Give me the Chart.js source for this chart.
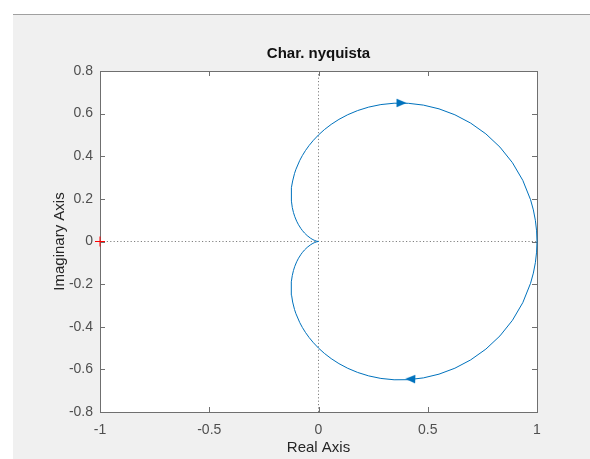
<!DOCTYPE html>
<html>
<head>
<meta charset="utf-8">
<script src="https://cdn.jsdelivr.net/npm/chart.js@4.4.0/dist/chart.umd.min.js"></script>
<style>
  html, body { margin: 0; padding: 0; background: #ffffff; overflow: hidden; }
  canvas { display: block; }
</style>
</head>
<body>
<canvas id="nyq" width="590" height="459"></canvas>
<script>
// Nyquist locus, positive frequencies (lower half), from w = 0 up to w -> inf
const posRe = [1, 0.99813, 0.99253, 0.98328, 0.97050, 0.93495, 0.88757, 0.83045, 0.76593, 0.69642,
  0.62426, 0.55152, 0.48, 0.41114, 0.34602, 0.28540, 0.22972, 0.17920, 0.13385, 0.09353,
  0.05800, 0.02694, 0, -0.02319, -0.04300, -0.05979, -0.07390, -0.08566, -0.10324, -0.10957,
  -0.11834, -0.12309, -0.125, -0.12386, -0.12, -0.11459, -0.10843, -0.09988, -0.09153, -0.08,
  -0.07314, -0.06408, -0.05190, -0.03550, -0.02557, -0.0192, -0.0097, -0.0025, 0];
const posIm = [0, -0.04994, -0.09950, -0.14833, -0.19606, -0.28694, -0.36982, -0.44291, -0.50501, -0.55555,
  -0.59453, -0.62240, -0.64, -0.64839, -0.64879, -0.64245, -0.63060, -0.61440, -0.59488, -0.57297,
  -0.54943, -0.52493, -0.5, -0.47506, -0.45044, -0.42640, -0.40312, -0.38073, -0.33892, -0.31958,
  -0.28402, -0.25249, -0.21651, -0.18918, -0.16, -0.13602, -0.11627, -0.09512, -0.07858, -0.06,
  -0.05066, -0.03987, -0.02768, -0.01479, -0.00877, -0.0056, -0.00196, -0.00025, 0];

// Negative frequencies (upper half), from the origin back round to (1, 0)
const negRe = [0, -0.0025, -0.0097, -0.0192, -0.02557, -0.03550, -0.05190, -0.06408, -0.07314, -0.08,
  -0.09153, -0.09988, -0.10843, -0.11459, -0.12, -0.12386, -0.125, -0.12309, -0.11834, -0.10957,
  -0.10324, -0.08566, -0.07390, -0.05979, -0.04300, -0.02319, 0, 0.02694, 0.05800, 0.09353,
  0.13385, 0.17920, 0.22972, 0.28540, 0.34602, 0.41114, 0.48, 0.55152, 0.62426, 0.69642,
  0.76593, 0.83045, 0.88757, 0.93495, 0.97050, 0.98328, 0.99253, 0.99813, 1];
const negIm = [0, 0.00025, 0.00196, 0.0056, 0.00877, 0.01479, 0.02768, 0.03987, 0.05066, 0.06,
  0.07858, 0.09512, 0.11627, 0.13602, 0.16, 0.18918, 0.21651, 0.25249, 0.28402, 0.31958,
  0.33892, 0.38073, 0.40312, 0.42640, 0.45044, 0.47506, 0.5, 0.52493, 0.54943, 0.57297,
  0.59488, 0.61440, 0.63060, 0.64245, 0.64879, 0.64839, 0.64, 0.62240, 0.59453, 0.55555,
  0.50501, 0.44291, 0.36982, 0.28694, 0.19606, 0.14833, 0.09950, 0.04994, 0];

// Direction arrows on the locus (x, y, heading in degrees)
const arrowRe = [0.38, 0.42];
const arrowIm = [0.65, -0.645];
const arrowAngle = [90, 272];

// Critical point
const critRe = [-1];
const critIm = [0];

// Axis ticks
const xTickValues = [-1, -0.5, 0, 0.5, 1];
const xTickLabels = ['-1', '-0.5', '0', '0.5', '1'];
const yTickValues = [-0.8, -0.6, -0.4, -0.2, 0, 0.2, 0.4, 0.6, 0.8];
const yTickLabels = ['-0.8', '-0.6', '-0.4', '-0.2', '0', '0.2', '0.4', '0.6', '0.8'];

const FONT = "'Liberation Sans', Arial, Helvetica, sans-serif";
const LINE_BLUE = '#0072BD';
const AXIS_GRAY = '#6f6f6f';
const TICK_TEXT = '#4f4f4f';

const toPoints = (xs, ys) => xs.map((x, i) => ({ x: x, y: ys[i] }));

// Slim filled arrow head, pointing up before rotation
function makeArrowHead() {
  const c = document.createElement('canvas');
  c.width = 12; c.height = 12;
  const g = c.getContext('2d');
  g.fillStyle = LINE_BLUE;
  g.beginPath();
  g.moveTo(6, 1);
  g.lineTo(10.3, 11);
  g.lineTo(1.7, 11);
  g.closePath();
  g.fill();
  return c;
}
const arrowHead = makeArrowHead();

// Figure panel, white axes face, axes box with inward ticks
const figurePanel = {
  id: 'figurePanel',
  beforeDraw(chart) {
    const { ctx, width, height, chartArea: a } = chart;
    ctx.save();
    ctx.fillStyle = '#ffffff';
    ctx.fillRect(0, 0, width, height);
    ctx.fillStyle = '#f0f0f0';
    ctx.fillRect(13, 14, width - 13, height - 14);
    ctx.fillStyle = '#a0a0a0';
    ctx.fillRect(13, 14, width - 13, 1);
    ctx.fillStyle = '#ffffff';
    ctx.fillRect(a.left, a.top, a.right - a.left, a.bottom - a.top);
    ctx.restore();
  },
  beforeDatasetsDraw(chart) {
    const { ctx, chartArea: a, scales } = chart;
    const tl = 5;
    ctx.save();
    ctx.strokeStyle = AXIS_GRAY;
    ctx.lineWidth = 1;
    ctx.beginPath();
    xTickValues.forEach(v => {
      const px = Math.round(scales.x.getPixelForValue(v)) + 0.5;
      ctx.moveTo(px, a.bottom); ctx.lineTo(px, a.bottom - tl);
      ctx.moveTo(px, a.top); ctx.lineTo(px, a.top + tl);
    });
    yTickValues.forEach(v => {
      const py = Math.round(scales.y.getPixelForValue(v)) + 0.5;
      ctx.moveTo(a.left, py); ctx.lineTo(a.left + tl, py);
      ctx.moveTo(a.right, py); ctx.lineTo(a.right - tl, py);
    });
    ctx.stroke();
    ctx.strokeRect(Math.round(a.left) + 0.5, Math.round(a.top) + 0.5,
      Math.round(a.right - a.left), Math.round(a.bottom - a.top));
    ctx.restore();
  }
};

new Chart(document.getElementById('nyq'), {
  type: 'scatter',
  data: {
    datasets: [
      {
        data: toPoints(arrowRe, arrowIm),
        pointStyle: arrowHead,
        rotation: arrowAngle,
        pointRadius: 6,
        showLine: false,
        order: 0
      },
      {
        data: toPoints(critRe, critIm),
        pointStyle: 'cross',
        pointRadius: 5,
        borderColor: '#ff0000',
        borderWidth: 1,
        showLine: false,
        clip: false,
        order: 1
      },
      {
        data: toPoints(posRe, posIm),
        showLine: true,
        borderColor: LINE_BLUE,
        borderWidth: 1,
        pointRadius: 0,
        fill: false,
        clip: false,
        order: 2
      },
      {
        data: toPoints(negRe, negIm),
        showLine: true,
        borderColor: LINE_BLUE,
        borderWidth: 1,
        pointRadius: 0,
        fill: false,
        clip: false,
        order: 2
      },
      {
        data: [{ x: -1, y: 0 }, { x: 1, y: 0 }],
        showLine: true,
        borderColor: '#808080',
        borderWidth: 1,
        borderDash: [1.2, 2.2],
        pointRadius: 0,
        order: 5
      },
      {
        data: [{ x: 0, y: -0.8 }, { x: 0, y: 0.8 }],
        showLine: true,
        borderColor: '#808080',
        borderWidth: 1,
        borderDash: [1.2, 2.2],
        pointRadius: 0,
        order: 5
      }
    ]
  },
  options: {
    responsive: false,
    animation: false,
    devicePixelRatio: 1,
    events: [],
    layout: { padding: { top: 0, right: 53, bottom: 0, left: 0 } },
    plugins: {
      legend: { display: false },
      tooltip: { enabled: false },
      title: {
        display: true,
        text: 'Char. nyquista',
        fullSize: false,
        color: '#111111',
        font: { family: FONT, size: 15, weight: 'bold', lineHeight: 1.2 },
        padding: { top: 45, bottom: 8 }
      }
    },
    scales: {
      x: {
        type: 'linear',
        min: -1,
        max: 1,
        afterBuildTicks: s => { s.ticks = xTickValues.map(v => ({ value: v })); },
        afterFit: s => { s.height = 47; },
        grid: { display: false, drawTicks: false },
        border: { display: false },
        ticks: {
          autoSkip: false,
          maxRotation: 0,
          padding: 10,
          color: TICK_TEXT,
          font: { family: FONT, size: 14, lineHeight: 1.2 },
          callback: v => xTickLabels[xTickValues.indexOf(v)]
        },
        title: {
          display: true,
          text: 'Real Axis',
          color: '#262626',
          font: { family: FONT, size: 15, lineHeight: 1.2 },
          padding: { top: 0, bottom: 2 }
        }
      },
      y: {
        type: 'linear',
        min: -0.8,
        max: 0.8,
        afterBuildTicks: s => { s.ticks = yTickValues.map(v => ({ value: v })); },
        afterFit: s => { s.width = 100; },
        grid: { display: false, drawTicks: false },
        border: { display: false },
        ticks: {
          autoSkip: false,
          padding: 7,
          color: TICK_TEXT,
          font: { family: FONT, size: 14, lineHeight: 1.2 },
          callback: v => {
            const i = yTickValues.findIndex(t => Math.abs(t - v) < 1e-9);
            return i >= 0 ? yTickLabels[i] : '';
          }
        },
        title: {
          display: true,
          text: 'Imaginary Axis',
          color: '#262626',
          font: { family: FONT, size: 15, lineHeight: 1.2 },
          padding: { top: 51, bottom: 0 }
        }
      }
    }
  },
  plugins: [figurePanel]
});
</script>
</body>
</html>
